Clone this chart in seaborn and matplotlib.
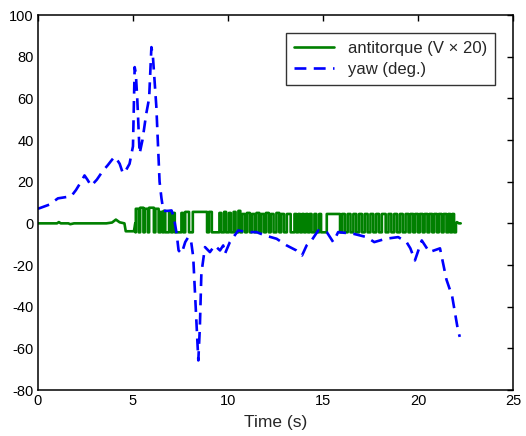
import numpy as np
import pandas as pd
import seaborn as sns
import matplotlib.pyplot as plt

# yaw (deg.)
yaw_t = [0.0, 0.3, 0.6, 0.9, 1.05, 1.4, 1.75, 2.0, 2.27, 2.45, 2.6, 2.8, 3.1, 3.4,
         3.68, 3.85, 4.03, 4.2, 4.3, 4.47, 4.6, 4.82, 5.0, 5.09, 5.15, 5.23, 5.35,
         5.5, 5.7, 5.85, 5.97, 6.05, 6.23, 6.4, 6.5, 6.6, 6.84, 7.03, 7.15, 7.3,
         7.4, 7.56, 7.75, 7.91, 8.05, 8.17, 8.3, 8.44, 8.52, 8.6, 8.79, 9.05, 9.3,
         9.58, 9.75, 9.84, 10.1, 10.54, 10.98, 11.5, 11.95, 12.56, 13.09, 13.6,
         13.9, 14.14, 14.4, 14.75, 15.2, 15.54, 15.8, 16.6, 17.3, 17.7, 18.3,
         18.96, 19.4, 19.6, 19.84, 20.2, 20.6, 21.16, 21.5, 21.8, 22.1, 22.2]
yaw_v = [7, 8, 9, 11, 12, 12.5, 13, 16, 20, 23, 21, 18, 21, 25,
         28, 30, 32, 30, 28.6, 24, 25, 28.6, 37, 75, 72, 59, 33.5,
         40, 52.7, 60, 84.6, 80, 56, 20, 12, 6, 6, 6.2, 3, -5,
         -13, -14.5, -9, -6.6, -8, -16, -40, -65.8, -50, -24, -11.4, -13.8, -10.6,
         -13, -10.6, -14.6, -9, -3.4, -4.2, -4.2, -5.8, -7.4, -10.6, -13,
         -15.4, -10.6, -8.2, -3.4, -4.2, -9, -4.2, -5, -6.6, -9, -7.4,
         -6.6, -9, -12, -17.8, -8.2, -13.8, -12, -27, -35, -51, -54.5]

# antitorque (V x 20): quiet part, then pulses
quiet_t = [0.0, 1.0, 1.1, 1.2, 1.6, 1.7, 1.9, 3.6, 3.9, 4.1, 4.3, 4.55, 4.62, 5.05, 5.12]
quiet_v = [0, 0, 0.6, 0, 0, -0.4, 0, 0, 0.4, 1.8, 0.5, 0, -3.8, -3.8, 0]

pulse_start = [5.15, 5.38, 5.62, 5.85, 6.18, 6.45, 6.62, 6.90, 7.10, 7.55, 7.75, 8.15,
               9.00, 9.55, 9.80, 10.05, 10.30, 10.55, 10.75, 11.00, 11.25, 11.50,
               11.75, 12.00, 12.25, 12.55, 12.80, 13.10, 13.50, 13.70, 13.90, 14.10,
               14.30, 14.55, 14.80, 15.20, 16.00, 16.30, 16.60, 16.90, 17.20, 17.50,
               17.80, 18.10, 18.45, 18.75, 19.05, 19.35, 19.60, 19.85, 20.10, 20.35,
               20.60, 20.85, 21.10, 21.35, 21.60, 21.80]
pulse_end = [5.30, 5.55, 5.78, 6.10, 6.35, 6.55, 6.70, 7.00, 7.20, 7.65, 7.95, 8.90,
             9.15, 9.65, 9.90, 10.15, 10.40, 10.65, 10.90, 11.15, 11.40, 11.65,
             11.90, 12.15, 12.40, 12.70, 12.95, 13.30, 13.60, 13.80, 14.00, 14.20,
             14.40, 14.65, 14.90, 15.90, 16.15, 16.45, 16.75, 17.05, 17.35, 17.65,
             17.95, 18.30, 18.60, 18.90, 19.20, 19.50, 19.75, 20.00, 20.25, 20.50,
             20.75, 21.00, 21.25, 21.50, 21.70, 21.90]
pulse_high = [7, 7.5, 7, 7.5, 7, 5.5, 6, 5.5, 5, 5, 5.5, 5.5,
              5.5, 5, 5.5, 5, 5.5, 6, 4.5, 5, 4.5, 5, 4.5, 5, 4.5, 5, 4.5, 4.5,
              4.5, 4.5, 4.5, 4.5, 4.5, 4.5, 4.5, 4.5, 4.5, 4.5, 4.5, 4.5, 4.5, 4.5,
              4.5, 4.5, 4.5, 4.5, 4.5, 4.5, 4.5, 4.5, 4.5, 4.5, 4.5, 4.5, 4.5, 4.5,
              4.5, 4.5]
pulse_low = -4.3
tail_t = [22.0, 22.05, 22.15, 22.25]
tail_v = [0, 0.6, 0, 0]

green_t = list(quiet_t) + [quiet_t[-1] + 0.01]
green_v = list(quiet_v) + [pulse_low]
for s, e, h in zip(pulse_start, pulse_end, pulse_high):
    green_t += [s, s, e, e]
    green_v += [pulse_low, h, h, pulse_low]
green_t += [tail_t[0]] + tail_t
green_v += [pulse_low] + tail_v

df_g = pd.DataFrame({'t': green_t, 'v': green_v})
df_y = pd.DataFrame({'t': yaw_t, 'v': yaw_v})

sns.set_style('white')
plt.rcParams['font.family'] = ['Liberation Sans', 'DejaVu Sans']
plt.rcParams['axes.unicode_minus'] = False

fig = plt.figure(figsize=(5.26, 4.36), dpi=100)
ax = fig.add_axes([0.0722, 0.1055, 0.903, 0.860])

dash = (0, (4.5, 2.8))
sns.lineplot(data=df_g, x='t', y='v', estimator=None, sort=False, ax=ax,
             color='#008000', linewidth=1.9, label='antitorque (V \u00d7 20)')
sns.lineplot(data=df_y, x='t', y='v', estimator=None, sort=False, ax=ax,
             color='#0000ff', linewidth=1.9, dashes=False, label='yaw (deg.)')
ax.lines[1].set_linestyle(dash)

ax.set_xlim(0, 25)
ax.set_ylim(-80, 100)
ax.set_xticks(range(0, 26, 5))
ax.set_yticks(range(-80, 101, 20))
ax.tick_params(direction='in', top=True, right=True, length=4, width=1,
               labelsize=10.5, colors='black', pad=3)
for sp in ax.spines.values():
    sp.set_linewidth(1.1)
    sp.set_color('black')
ax.set_xlabel('Time (s)', fontsize=12.5, labelpad=5)
ax.set_ylabel('')

leg = ax.legend(loc='upper right', fontsize=12, frameon=True, fancybox=False,
                handlelength=2.4, borderpad=0.5, labelspacing=0.35,
                bbox_to_anchor=(0.98, 0.975))
leg.get_frame().set_edgecolor('black')
leg.get_frame().set_linewidth(1.0)
leg.get_lines()[1].set_linestyle(dash)

fig.savefig('out.png', dpi=100)
